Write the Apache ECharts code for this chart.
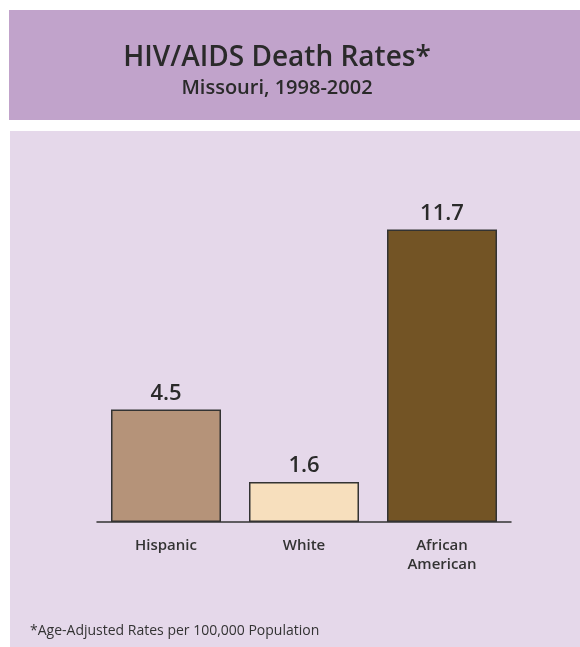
<!DOCTYPE html>
<html><head><meta charset="utf-8">
<script src="https://cdn.jsdelivr.net/npm/echarts@6/dist/echarts.min.js"></script>
<style>html,body{margin:0;padding:0;background:#fff}#c{width:580px;height:647px}</style>
</head><body><div id="c"></div>
<script>
var categories = ['Hispanic', 'White', 'African\nAmerican'];
var values = [4.5, 1.6, 11.7];
var barColors = ['#b59379', '#f7dfbd', '#735425'];
var titleText = 'HIV/AIDS Death Rates*';
var subtitleText = 'Missouri, 1998-2002';
var footnote = '*Age-Adjusted Rates per 100,000 Population';

var chart = echarts.init(document.getElementById('c'));
var FONT = '"Open Sans", "Noto Sans", sans-serif';
chart.setOption({
  animation: false,
  backgroundColor: '#ffffff',
  graphic: [
    {type: 'rect', left: 9, top: 10, shape: {width: 580, height: 110}, style: {fill: '#c1a3cb'}, z: -10},
    {type: 'rect', left: 10, top: 131, shape: {width: 580, height: 520}, style: {fill: '#e5d8ea'}, z: -10},
    {type: 'text', left: 30, top: 624, style: {text: footnote, fill: '#333', font: '14px ' + FONT}}
  ],
  title: {
    text: titleText,
    subtext: subtitleText,
    left: 272, textAlign: 'center', top: 39,
    itemGap: 6,
    textStyle: {fontFamily: FONT, fontSize: 28, fontWeight: 600, color: '#2a2a2a'},
    subtextStyle: {fontFamily: FONT, fontSize: 20, fontWeight: 600, color: '#2a2a2a'}
  },
  grid: {left: 97, right: 69, top: 222, bottom: 125},
  xAxis: {
    type: 'category', data: categories,
    axisLine: {lineStyle: {color: '#333', width: 1.5}},
    axisTick: {show: false},
    axisLabel: {color: '#333', fontFamily: FONT, fontSize: 15, fontWeight: 600, margin: 14, lineHeight: 19}
  },
  yAxis: {type: 'value', min: 0, max: 12, show: false, splitLine: {show: false}},
  series: [{
    type: 'bar', barWidth: 110,
    data: values.map(function (v, i) { return {value: v, itemStyle: {color: barColors[i]}}; }),
    itemStyle: {borderColor: '#333', borderWidth: 1.5},
    label: {show: true, position: 'top', distance: 5, color: '#2a2a2a', fontFamily: FONT, fontSize: 22, fontWeight: 600}
  }]
});
</script></body></html>
